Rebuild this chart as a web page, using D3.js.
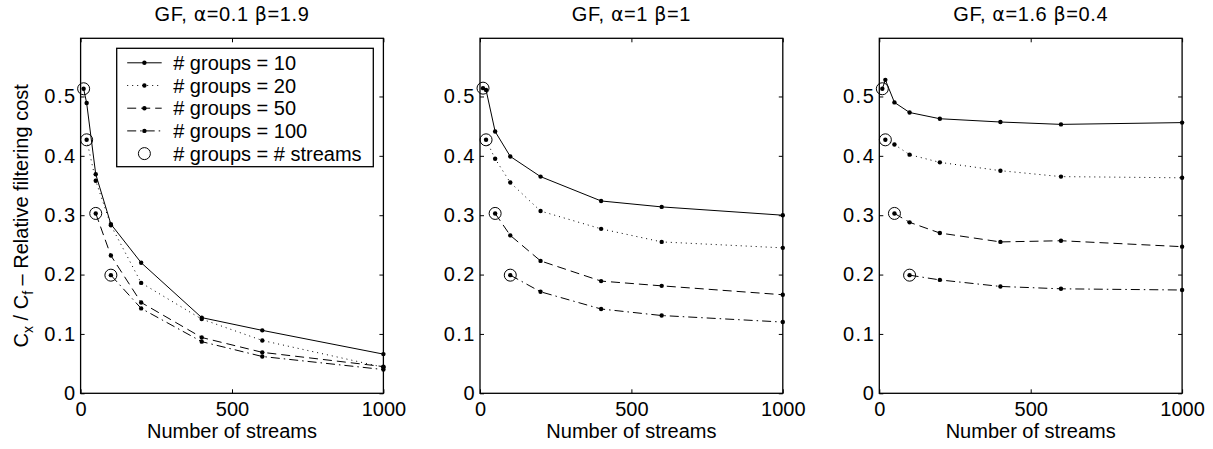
<!DOCTYPE html>
<html><head><meta charset="utf-8">
<script src="https://cdn.jsdelivr.net/npm/d3@7"></script>
<style>
body{margin:0;background:#fff;}
text{font-family:"Liberation Sans",Arial,Helvetica,sans-serif;fill:#000;}
</style></head>
<body>
<svg id="chart" width="1213" height="449"></svg>
<script>
// ---- data ----
const streams = [10, 20, 50, 100, 200, 400, 600, 1000];
const groupCounts = [10, 20, 50, 100];
const legendLabels = ["# groups = 10", "# groups = 20", "# groups = 50", "# groups = 100", "# groups = # streams"];
const panelAlpha = ["0.1", "1", "1.6"];
const panelBeta = ["1.9", "1", "0.4"];
const xTicks = [0, 500, 1000];
const yTicks = [0, 0.1, 0.2, 0.3, 0.4, 0.5];
const xLabel = "Number of streams";

// panel 1: alpha=0.1 beta=1.9
const p1_g10  = [0.513, 0.489, 0.369, 0.285, 0.220, 0.1275, 0.106, 0.066];
const p1_g20  = [null, 0.427, 0.358, 0.283, 0.186, 0.125, 0.089, 0.044];
const p1_g50  = [null, null, 0.303, 0.232, 0.153, 0.094, 0.069, 0.045];
const p1_g100 = [null, null, null, 0.199, 0.143, 0.087, 0.062, 0.040];
// panel 2: alpha=1 beta=1
const p2_g10  = [0.514, 0.511, 0.441, 0.399, 0.365, 0.324, 0.314, 0.300];
const p2_g20  = [null, 0.427, 0.395, 0.355, 0.307, 0.277, 0.255, 0.245];
const p2_g50  = [null, null, 0.303, 0.266, 0.223, 0.189, 0.181, 0.166];
const p2_g100 = [null, null, null, 0.199, 0.171, 0.142, 0.131, 0.120];
// panel 3: alpha=1.6 beta=0.4
const p3_g10  = [0.513, 0.528, 0.490, 0.473, 0.4625, 0.457, 0.453, 0.456];
const p3_g20  = [null, 0.427, 0.419, 0.402, 0.389, 0.375, 0.365, 0.363];
const p3_g50  = [null, null, 0.303, 0.288, 0.270, 0.255, 0.257, 0.247];
const p3_g100 = [null, null, null, 0.199, 0.191, 0.180, 0.176, 0.174];

const panels = [
  [p1_g10, p1_g20, p1_g50, p1_g100],
  [p2_g10, p2_g20, p2_g50, p2_g100],
  [p3_g10, p3_g20, p3_g50, p3_g100]
];

// ---- layout / style ----
const dashes = [null, "1,4", "9,5", "9,4,1.5,4"];
const plotTop = 38.3, plotBottom = 393.3, pw = 302.8;
const lefts = [80.6, 480.0, 879.3];
const yMax = 0.598;
const fs = "20px";
const svg = d3.select("#chart");

panels.forEach((series, pi) => {
  const x = d3.scaleLinear().domain([0, 1000]).range([lefts[pi], lefts[pi] + pw]);
  const y = d3.scaleLinear().domain([0, yMax]).range([plotBottom, plotTop]);
  const g = svg.append("g");

  const tl = 4;
  g.append("g").attr("transform", `translate(0,${plotBottom})`)
    .call(d3.axisBottom(x).tickValues(xTicks).tickSize(-tl).tickPadding(9).tickFormat(d3.format("d")))
    .call(a => a.select(".domain").remove());
  g.append("g").attr("transform", `translate(0,${plotTop})`)
    .call(d3.axisTop(x).tickValues(xTicks).tickSize(-tl).tickFormat(""))
    .call(a => a.select(".domain").remove());
  g.append("g").attr("class", "yax").attr("transform", `translate(${lefts[pi]},0)`)
    .call(d3.axisLeft(y).tickValues(yTicks).tickSize(-tl).tickPadding(4).tickFormat(d => d === 0 ? "0" : d3.format(".1f")(d)))
    .call(a => a.select(".domain").remove());
  g.append("g").attr("transform", `translate(${lefts[pi] + pw},0)`)
    .call(d3.axisRight(y).tickValues(yTicks).tickSize(-tl).tickFormat(""))
    .call(a => a.select(".domain").remove());
  g.selectAll(".tick line").attr("stroke", "#000").attr("stroke-width", 1);
  g.selectAll(".tick text").style("font-size", fs).attr("fill", "#000")
    .style("font-family", "'Liberation Sans', Arial, sans-serif");
  g.selectAll(".yax .tick text").style("letter-spacing", "1.5px");
  g.append("rect").attr("x", lefts[pi]).attr("y", plotTop).attr("width", pw).attr("height", plotBottom - plotTop)
    .attr("fill", "none").attr("stroke", "#000").attr("stroke-width", 1.3);

  const t = g.append("text").attr("x", lefts[pi] + pw / 2).attr("y", 20.7).attr("text-anchor", "middle")
    .style("font-size", fs).style("letter-spacing", "0.6px");
  t.append("tspan").text("GF, ");
  t.append("tspan").style("font-family", "'DejaVu Sans'").style("font-size", "19px").text("\u03b1");
  t.append("tspan").text("=" + panelAlpha[pi] + " ");
  t.append("tspan").style("font-family", "'DejaVu Sans'").style("font-size", "19px").text("\u03b2");
  t.append("tspan").text("=" + panelBeta[pi]);
  g.append("text").attr("x", lefts[pi] + pw / 2).attr("y", 438).attr("text-anchor", "middle")
    .style("font-size", fs).text(xLabel);

  const line = d3.line().defined(d => d[1] !== null).x(d => x(d[0])).y(d => y(d[1]));
  series.forEach((vals, si) => {
    const pts = streams.map((s, i) => [s, vals[i]]);
    g.append("path").attr("d", line(pts)).attr("fill", "none").attr("stroke", "#000")
      .attr("stroke-width", 1).attr("stroke-dasharray", dashes[si]);
    g.selectAll(null).data(pts.filter(d => d[1] !== null)).enter().append("circle")
      .attr("cx", d => x(d[0])).attr("cy", d => y(d[1])).attr("r", 2.2).attr("fill", "#000");
    const idx = streams.indexOf(groupCounts[si]);
    g.append("circle").attr("cx", x(streams[idx])).attr("cy", y(vals[idx])).attr("r", 6)
      .attr("fill", "none").attr("stroke", "#000").attr("stroke-width", 1);
  });
});

// y label
const yl = svg.append("text").attr("transform", `translate(27.5,215.8) rotate(-90)`)
  .attr("text-anchor", "middle").style("font-size", fs);
yl.append("tspan").text("C");
yl.append("tspan").attr("baseline-shift", "-5").style("font-size", "14px").text("x");
yl.append("tspan").text(" / C");
yl.append("tspan").attr("baseline-shift", "-5").style("font-size", "14px").text("f");
yl.append("tspan").text(" \u2013 Relative filtering cost");

// legend (panel 1)
const lg = svg.append("g");
const lx0 = 116.7, ly0 = 48.3, lw = 256.6, lh = 118.4;
lg.append("rect").attr("x", lx0).attr("y", ly0).attr("width", lw).attr("height", lh)
  .attr("fill", "#fff").attr("stroke", "#000").attr("stroke-width", 1.3);
legendLabels.forEach((lab, i) => {
  const yy = ly0 + 14.5 + i * 22.7;
  if (i < 4) {
    lg.append("line").attr("x1", lx0 + 10.5).attr("x2", lx0 + 45).attr("y1", yy).attr("y2", yy)
      .attr("stroke", "#000").attr("stroke-width", 1).attr("stroke-dasharray", dashes[i]);
    lg.append("circle").attr("cx", lx0 + 27.7).attr("cy", yy).attr("r", 2.2).attr("fill", "#000");
  } else {
    lg.append("circle").attr("cx", lx0 + 27.7).attr("cy", yy).attr("r", 6)
      .attr("fill", "none").attr("stroke", "#000").attr("stroke-width", 1);
  }
  lg.append("text").attr("x", lx0 + 56.5).attr("y", yy).attr("dy", "0.35em")
    .style("font-size", fs).text(lab);
});
</script>
</body></html>
